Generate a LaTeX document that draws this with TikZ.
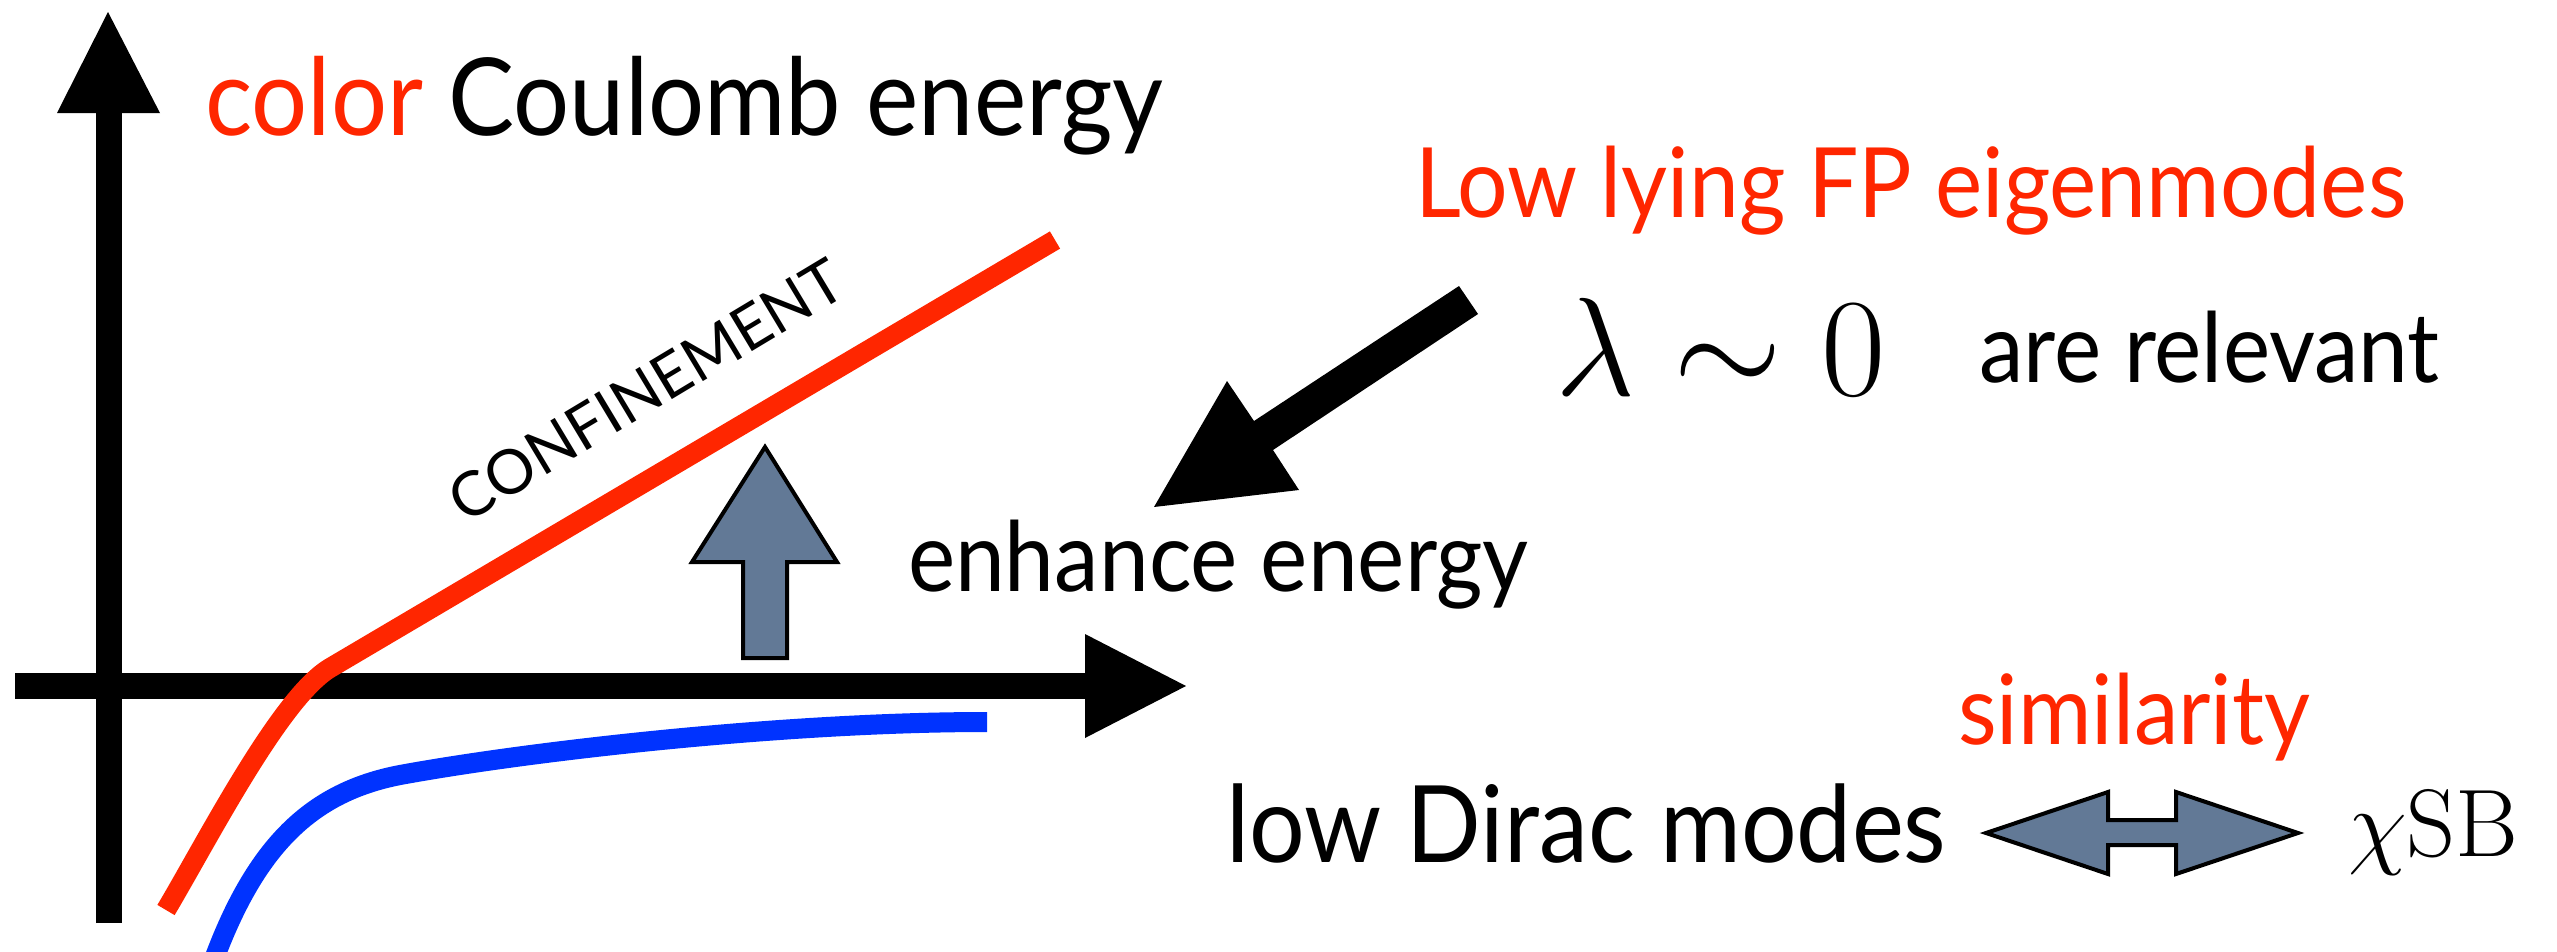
\documentclass[tikz,border=0pt]{standalone}
\usepackage{graphicx}
\usepackage{fontspec}
\newfontfamily\gill{Lato}[FakeStretch=0.92]
\newfontfamily\gillcaps{Lato}
\definecolor{hotred}{RGB}{255,38,0}
\definecolor{vivblue}{RGB}{0,51,255}
\definecolor{slate}{RGB}{98,121,150}
\begin{document}
\begin{tikzpicture}[x=0.01cm,y=-0.01cm,
  lbl/.style={inner sep=0,outer sep=0,anchor=base west,font=\gill\fontsize{27.6}{33}\selectfont},
  mathlbl/.style={inner sep=0,outer sep=0,anchor=base west,font=\fontsize{24.88}{30}\selectfont},
  axisline/.style={line width=0.26cm},
  curveline/.style={line width=0.2cm},
  fatarrow/.style={fill=slate,draw=black,line width=0.04cm,line join=miter}]
\useasboundingbox (0,0) rectangle (2557,951);

% axes with large triangular heads
\coordinate (ybot) at (109,923);
\coordinate (ytop) at (109,110);
\coordinate (xleft) at (15,686);
\coordinate (xright) at (1088,686);
\draw[axisline] (ybot) -- (ytop);
\fill (57,113) -- (160,113) -- (108,12) -- cycle;
\draw[axisline] (xleft) -- (xright);
\fill (1085,634) -- (1085,738) -- (1186,686) -- cycle;

% energy curves
\coordinate (rstart) at (166,910);
\coordinate (rknee) at (330,668);
\coordinate (rend) at (1055,240);
\draw[hotred,curveline] (rstart) .. controls (207,841) and (280,698) .. (rknee) -- (rend);
\coordinate (bstart) at (213,962);
\coordinate (bknee) at (400,775);
\coordinate (bend) at (987,722);
\draw[vivblue,curveline] (bstart) .. controls (256,845) and (312,792) .. (bknee)
  .. controls (525,752) and (780,722) .. (bend);

\node[inner sep=0,rotate=31,font=\gillcaps\fontsize{17.5}{21}\selectfont] (conf) at (646,390) {CONFINEMENT};

% block arrow pointing up
\draw[fatarrow] (743,658) -- (743,562) -- (692,562) -- (765,447) -- (837,562)
  -- (787,562) -- (787,658) -- cycle;

% black arrow from the eigenmode text
\fill (1459,286) -- (1478,314) -- (1273,450) -- (1299,490) -- (1154,507)
  -- (1227,381) -- (1254,421) -- cycle;

% double block arrow
\draw[fatarrow] (1986,833) -- (2108,792) -- (2108,820) -- (2176,820) -- (2176,792)
  -- (2298,833) -- (2176,874) -- (2176,845) -- (2108,845) -- (2108,874) -- cycle;

% labels
\node[lbl,font=\gill\fontsize{30.6}{36}\selectfont] (title) at (205,135) {\textcolor{hotred}{color} Coulomb energy};
\node[lbl,text=hotred] (lowfp) at (1415,217) {Low lying FP eigenmodes};
\node[mathlbl] (lam) at (1555,395) {\scalebox{1.6}{$\lambda\sim0$}};
\node[lbl] (rel) at (1979,382) {are relevant};
\node[lbl] (enh) at (908,591) {enhance energy};
\node[lbl,text=hotred] (sim) at (1958,744) {similarity};
\node[lbl,font=\gill\fontsize{30.4}{36}\selectfont] (dirac) at (1226,862) {low Dirac modes};
\node[mathlbl] (chi) at (2348,856) {\scalebox{1.097}{$\chi\mathrm{SB}$}};
\end{tikzpicture}
\end{document}
